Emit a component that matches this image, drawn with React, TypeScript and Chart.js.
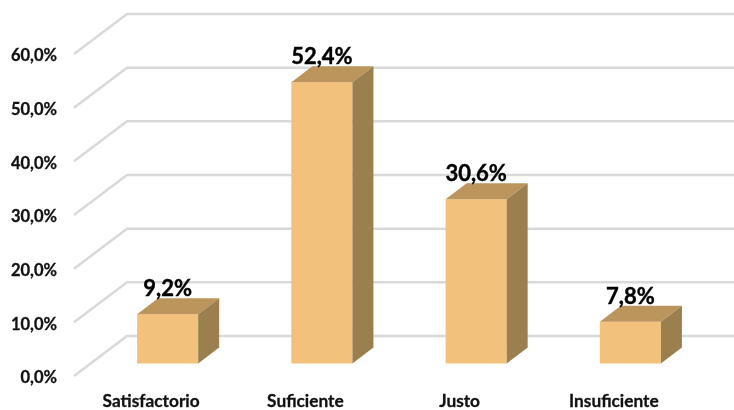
import React, { useEffect, useRef } from "react";
import { Chart, registerables } from "chart.js";

Chart.register(...registerables);

const categories = ["Satisfactorio", "Suficiente", "Justo", "Insuficiente"];
const values = [9.2, 52.4, 30.6, 7.8];
const yTicks = [0, 10, 20, 30, 40, 50, 60];

const FONT = "Lato, Carlito, sans-serif";
const FRONT = "#F2C27C";
const TOP = "#BC955C";
const SIDE = "#9C7F4E";
const GRID = "#D9D9D9";

// 3D projection offsets relative to the axis plane
const FLOOR_DY = -2;
const WALL_DX = 53, WALL_DY = -42;
const BAR_DX = 16.5, BAR_DY = -14.5;
const DEPTH_DX = 21, DEPTH_DY = -16;

const fmt = (v: number) => v.toFixed(1).replace(".", ",") + "%";

const threeD = {
  id: "threeD",
  beforeDatasetsDraw(chart: any) {
    const { ctx, chartArea, scales } = chart;
    const y = scales.y;
    ctx.save();
    ctx.strokeStyle = GRID;
    ctx.lineWidth = 2.5;
    ctx.lineCap = "butt";
    for (const t of yTicks) {
      const py = y.getPixelForValue(t);
      ctx.beginPath();
      ctx.moveTo(chartArea.left, py + FLOOR_DY);
      ctx.lineTo(chartArea.left + WALL_DX, py + WALL_DY);
      ctx.lineTo(chartArea.right + WALL_DX, py + WALL_DY);
      ctx.stroke();
    }
    ctx.restore();
    ctx.save();
    ctx.translate(BAR_DX, BAR_DY);
  },
  afterDatasetsDraw(chart: any) {
    const { ctx } = chart;
    ctx.restore();
    ctx.save();
    const meta = chart.getDatasetMeta(0);
    meta.data.forEach((el: any, i: number) => {
      const p = el.getProps(["x", "y", "base", "width"], true);
      const l = p.x - p.width / 2 + BAR_DX;
      const r = p.x + p.width / 2 + BAR_DX;
      const t = p.y + BAR_DY;
      const b = p.base + BAR_DY;
      ctx.fillStyle = TOP;
      ctx.beginPath();
      ctx.moveTo(l, t);
      ctx.lineTo(l + DEPTH_DX, t + DEPTH_DY);
      ctx.lineTo(r + DEPTH_DX, t + DEPTH_DY);
      ctx.lineTo(r, t);
      ctx.closePath();
      ctx.fill();
      ctx.fillStyle = SIDE;
      ctx.beginPath();
      ctx.moveTo(r, t);
      ctx.lineTo(r + DEPTH_DX, t + DEPTH_DY);
      ctx.lineTo(r + DEPTH_DX, b + DEPTH_DY);
      ctx.lineTo(r, b);
      ctx.closePath();
      ctx.fill();
      ctx.fillStyle = "#000000";
      ctx.strokeStyle = "#000000";
      ctx.lineWidth = 0.4;
      ctx.font = `bold 22px ${FONT}`;
      ctx.textAlign = "center";
      ctx.textBaseline = "middle";
      const lx = (l + r) / 2, ly = t + DEPTH_DY - 9;
      ctx.fillText(fmt(values[i]), lx, ly);
      ctx.strokeText(fmt(values[i]), lx, ly);
    });
    ctx.restore();
  },
};

export default function App() {
  const ref = useRef<HTMLCanvasElement>(null);
  useEffect(() => {
    document.body.style.margin = "0";
    const chart = new Chart(ref.current!, {
      type: "bar",
      data: {
        labels: categories,
        datasets: [
          {
            data: values,
            backgroundColor: FRONT,
            borderWidth: 0,
            barPercentage: 0.396,
            categoryPercentage: 1,
            clip: false,
          } as any,
        ],
      },
      options: {
        animation: false,
        responsive: false,
        layout: { padding: { top: 56, right: 43, bottom: 0, left: 0 } },
        plugins: { legend: { display: false }, tooltip: { enabled: false } },
        scales: {
          x: {
            grid: { display: false, drawTicks: false },
            border: { display: false },
            ticks: {
              color: "#111111",
              font: { family: FONT, size: 17.3, weight: "bold" },
              padding: 13,
              maxRotation: 0,
              textStrokeColor: "#111111",
              textStrokeWidth: 0.3,
            },
            afterFit: (s: any) => { s.height = 32; },
          },
          y: {
            min: 0,
            max: 60,
            grid: { display: false, drawTicks: false },
            border: { display: false },
            ticks: {
              stepSize: 10,
              color: "#111111",
              padding: 17,
              font: { family: FONT, size: 16.5, weight: "bold" },
              textStrokeColor: "#111111",
              textStrokeWidth: 0.3,
              callback: (v: any) => fmt(Number(v)),
            },
            afterFit: (s: any) => { s.width = 74; },
          },
        },
      },
      plugins: [threeD],
    } as any);
    return () => chart.destroy();
  }, []);
  return (
    <canvas
      ref={ref}
      width={734}
      height={410}
      style={{ display: "block", width: 734, height: 410 }}
    />
  );
}
